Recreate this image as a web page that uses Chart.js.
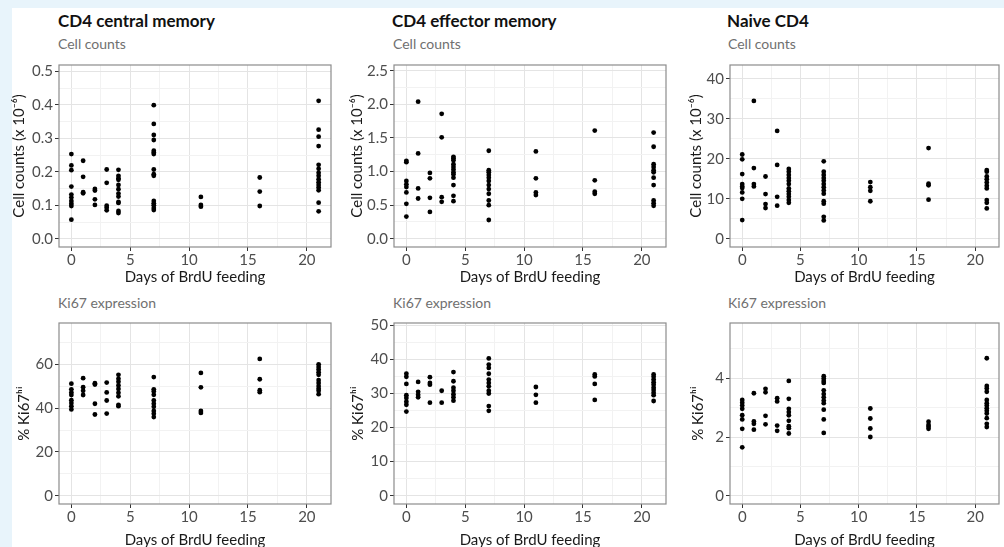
<!DOCTYPE html>
<html>
<head>
<meta charset="utf-8">
<script src="https://cdn.jsdelivr.net/npm/chart.js@4.4.1/dist/chart.umd.min.js"></script>
<style>
  html, body { margin: 0; padding: 0; }
  body { width: 1004px; height: 547px; overflow: hidden; background: #e8f4fb; position: relative; font-family: Lato, 'Open Sans', sans-serif; }
  #sheet { position: absolute; left: 12px; top: 8px; right: 0; bottom: 0; background: #fff; }
  .ttl { position: absolute; font-weight: bold; font-size: 17px; line-height: 17px; color: #111; white-space: nowrap; }
  .sub { position: absolute; font-size: 14px; line-height: 14px; color: #707070; white-space: nowrap; }
  canvas { position: absolute; }
</style>
</head>
<body>
<div id="sheet"></div>
<div class="ttl" style="left:58px;top:12px">CD4 central memory</div>
<div class="ttl" style="left:392px;top:12px">CD4 effector memory</div>
<div class="ttl" style="left:727px;top:12px">Naive CD4</div>
<div class="sub" style="left:58px;top:37px">Cell counts</div>
<div class="sub" style="left:393px;top:37px">Cell counts</div>
<div class="sub" style="left:728px;top:37px">Cell counts</div>
<div class="sub" style="left:58px;top:296px">Ki67 expression</div>
<div class="sub" style="left:393px;top:296px">Ki67 expression</div>
<div class="sub" style="left:728px;top:296px">Ki67 expression</div>
<script>
// Days of BrdU feeding (x) shared by every panel
const days = [0, 1, 2, 3, 4, 7, 11, 16, 21];
const xMajor = [0, 5, 10, 15, 20];
const xMinor = [2.5, 7.5, 12.5, 17.5];

// One inner list per day, in the order of `days`
const cmCounts = [
  [0.253, 0.219, 0.205, 0.156, 0.132, 0.123, 0.113, 0.105, 0.098, 0.057],
  [0.233, 0.185, 0.139, 0.136],
  [0.149, 0.144, 0.118, 0.101],
  [0.207, 0.167, 0.099, 0.093, 0.085],
  [0.206, 0.188, 0.181, 0.176, 0.161, 0.148, 0.135, 0.126, 0.110, 0.107, 0.083, 0.077],
  [0.399, 0.343, 0.310, 0.295, 0.263, 0.258, 0.253, 0.207, 0.193, 0.188, 0.113, 0.106, 0.100, 0.092, 0.086],
  [0.125, 0.101, 0.096],
  [0.183, 0.141, 0.098],
  [0.412, 0.326, 0.305, 0.277, 0.221, 0.209, 0.197, 0.188, 0.178, 0.169, 0.161, 0.153, 0.145, 0.108, 0.082],
];
const emCounts = [
  [1.16, 1.14, 0.86, 0.81, 0.77, 0.69, 0.52, 0.33],
  [2.04, 1.27, 0.75, 0.60],
  [0.98, 0.90, 0.61, 0.40],
  [1.86, 1.51, 0.62, 0.55],
  [1.22, 1.20, 1.17, 1.11, 1.07, 1.03, 0.99, 0.96, 0.91, 0.80, 0.64, 0.56],
  [1.31, 1.02, 0.99, 0.95, 0.91, 0.86, 0.80, 0.74, 0.67, 0.57, 0.50, 0.28],
  [1.30, 0.90, 0.69, 0.65],
  [1.61, 0.87, 0.70, 0.67],
  [1.58, 1.37, 1.11, 1.07, 1.02, 0.99, 0.91, 0.80, 0.57, 0.53, 0.49],
];
const nvCounts = [
  [21.1, 19.9, 16.2, 13.7, 13.1, 12.7, 11.6, 10.0, 4.7],
  [34.5, 17.7, 13.7, 13.1],
  [15.6, 11.2, 8.7, 7.7],
  [27.0, 18.5, 10.5, 8.3],
  [17.5, 16.8, 16.0, 15.2, 14.5, 13.7, 12.6, 11.9, 11.2, 10.5, 9.7, 9.0],
  [19.4, 16.8, 16.0, 15.2, 14.5, 13.7, 12.9, 12.1, 11.3, 9.4, 8.8, 5.5, 4.6],
  [14.2, 12.9, 12.0, 9.4],
  [22.7, 13.8, 13.4, 9.8],
  [17.2, 16.8, 15.6, 14.9, 14.1, 13.3, 12.6, 9.7, 9.0, 7.6],
];
const cmKi67 = [
  [51.2, 48.6, 47.2, 46.0, 43.6, 42.3, 40.9, 39.4],
  [53.7, 49.6, 47.9, 46.0],
  [51.4, 50.8, 42.0, 37.1],
  [51.7, 47.2, 43.5, 37.5],
  [55.2, 53.4, 52.0, 50.4, 48.8, 47.0, 45.4, 41.5, 40.9],
  [54.2, 48.6, 47.6, 46.1, 43.5, 42.0, 40.6, 38.7, 37.4, 35.9],
  [56.1, 49.5, 38.7, 37.8],
  [62.5, 53.2, 48.2, 47.3],
  [60.0, 58.8, 57.7, 56.4, 55.2, 52.8, 51.5, 50.1, 48.9, 47.9, 46.4],
];
const emKi67 = [
  [35.8, 34.9, 32.8, 29.5, 28.7, 27.6, 26.7, 24.7],
  [33.4, 30.5, 29.6, 28.9],
  [34.8, 33.1, 32.6, 27.3],
  [30.8, 27.3],
  [36.3, 33.6, 31.7, 30.8, 29.8, 28.9, 27.9],
  [40.3, 38.5, 37.5, 35.8, 34.1, 33.1, 32.1, 30.8, 30.0, 26.3, 24.9],
  [31.9, 29.6, 27.3],
  [35.6, 35.0, 32.8, 28.1],
  [35.6, 34.9, 34.1, 33.3, 32.6, 31.7, 31.0, 30.2, 29.5, 27.8],
];
const nvKi67 = [
  [3.26, 3.17, 3.07, 2.96, 2.74, 2.60, 2.28, 1.65],
  [3.49, 2.53, 2.45, 2.25],
  [3.64, 3.52, 2.72, 2.43],
  [3.32, 3.21, 2.39, 2.21],
  [3.91, 3.30, 2.96, 2.85, 2.74, 2.55, 2.37, 2.30, 2.12],
  [4.07, 3.99, 3.91, 3.84, 3.59, 3.46, 3.35, 3.24, 3.15, 2.93, 2.60, 2.14],
  [2.97, 2.63, 2.29, 2.00],
  [2.52, 2.41, 2.35, 2.28],
  [4.68, 3.74, 3.65, 3.54, 3.26, 3.15, 3.07, 2.98, 2.89, 2.80, 2.64, 2.45, 2.34],
];

// y tick labels (major) and minor grid positions
const cmCountTicks = [0, 0.1, 0.2, 0.3, 0.4, 0.5];
const cmCountMinor = [0.05, 0.15, 0.25, 0.35, 0.45];
const emCountTicks = [0, 0.5, 1, 1.5, 2, 2.5];
const emCountMinor = [0.25, 0.75, 1.25, 1.75, 2.25];
const nvCountTicks = [0, 10, 20, 30, 40];
const nvCountMinor = [5, 15, 25, 35];
const cmKi67Ticks = [0, 20, 40, 60];
const cmKi67Minor = [10, 30, 50, 70];
const emKi67Ticks = [0, 10, 20, 30, 40, 50];
const emKi67Minor = [5, 15, 25, 35, 45];
const nvKi67Ticks = [0, 2, 4];
const nvKi67Minor = [1, 3, 5];

const COUNT_TITLE = 'Cell counts (x 10\u207B\u2076)';
const KI67_TITLE = '% Ki67\u02B0\u2071';

Chart.defaults.font.family = "Lato, 'Open Sans', sans-serif";
Chart.defaults.font.size = 15;
Chart.defaults.animation = false;

// ggplot-like panel border on all four sides
const framePlugin = {
  id: 'frame',
  afterDraw(chart) {
    const { ctx, chartArea: a } = chart;
    ctx.save();
    ctx.strokeStyle = '#8c8c8c';
    ctx.lineWidth = 1.2;
    ctx.strokeRect(a.left, a.top, a.right - a.left, a.bottom - a.top);
    ctx.restore();
  },
};

function toPoints(values) {
  const pts = [];
  days.forEach((d, i) => values[i].forEach((v) => pts.push({ x: d, y: v })));
  return pts;
}

function axis(major, minor, min, max, fmt, title, size, titlePad) {
  const horizontal = size.h !== undefined;
  const isMajor = (v) => major.includes(v);
  return {
    type: 'linear',
    min: min,
    max: max,
    afterBuildTicks: (s) => { s.ticks = major.concat(minor).sort((a, b) => a - b).map((v) => ({ value: v })); },
    afterFit: (s) => { if (horizontal) s.height = size.h; else s.width = size.w; },
    ticks: {
      autoSkip: false,
      maxRotation: 0,
      color: '#4d4d4d',
      padding: horizontal ? 0 : 2,
      callback: (v) => (isMajor(v) ? fmt(v) : ''),
    },
    grid: {
      color: (c) => (c.tick && isMajor(c.tick.value) ? '#e4e4e4' : '#f2f2f2'),
      tickColor: (c) => (c.tick && isMajor(c.tick.value) ? '#333' : 'rgba(0,0,0,0)'),
      tickLength: 4,
      lineWidth: 1,
    },
    border: { display: false },
    title: { display: true, text: title, color: '#1a1a1a', font: { size: 15 }, padding: titlePad },
  };
}

function makePanel(p) {
  const W = 50, H = 45, PAD = 4;
  const c = document.createElement('canvas');
  c.width = p.r - p.l + W + PAD;
  c.height = p.b - p.t + H + PAD;
  c.style.left = (p.l - W) + 'px';
  c.style.top = (p.t - PAD) + 'px';
  document.body.appendChild(c);
  new Chart(c, {
    type: 'scatter',
    data: {
      datasets: [{
        data: toPoints(p.values),
        pointRadius: 2.4,
        pointBorderWidth: 0,
        pointBackgroundColor: '#000',
        borderColor: '#000',
      }],
    },
    options: {
      responsive: false,
      layout: { padding: { top: PAD, right: PAD, left: 0, bottom: 0 } },
      plugins: { legend: { display: false }, tooltip: { enabled: false } },
      scales: {
        x: axis(xMajor, xMinor, -1.05, 22.05, (v) => String(v), 'Days of BrdU feeding', { h: H },
          { top: 0, bottom: p.xPad }),
        y: axis(p.major, p.minor, p.min, p.max, p.fmt, p.title, { w: W },
          { top: p.yPad, bottom: 0 }),
      },
    },
    plugins: [framePlugin],
  });
}

const fix1 = (v) => v.toFixed(1);
const fix0 = (v) => String(v);
const topRow = { t: 58, b: 247, xPad: 6 };
const botRow = { t: 316, b: 504, xPad: 0 };

makePanel({ ...topRow, l: 59, r: 331, values: cmCounts, major: cmCountTicks, minor: cmCountMinor, min: -0.0245, max: 0.519, fmt: fix1, title: COUNT_TITLE, yPad: 1 });
makePanel({ ...topRow, l: 394, r: 666, values: emCounts, major: emCountTicks, minor: emCountMinor, min: -0.122, max: 2.586, fmt: fix1, title: COUNT_TITLE, yPad: 4 });
makePanel({ ...topRow, l: 730, r: 999, values: nvCounts, major: nvCountTicks, minor: nvCountMinor, min: -2.05, max: 43.5, fmt: fix0, title: COUNT_TITLE, yPad: 7 });
makePanel({ ...botRow, l: 59, r: 331, values: cmKi67, major: cmKi67Ticks, minor: cmKi67Minor, min: -3.8, max: 78.9, fmt: fix0, title: KI67_TITLE, yPad: 6 });
makePanel({ ...botRow, l: 394, r: 666, values: emKi67, major: emKi67Ticks, minor: emKi67Minor, min: -2.45, max: 50.7, fmt: fix0, title: KI67_TITLE, yPad: 5 });
makePanel({ ...botRow, l: 730, r: 999, values: nvKi67, major: nvKi67Ticks, minor: nvKi67Minor, min: -0.28, max: 5.88, fmt: fix0, title: KI67_TITLE, yPad: 9 });
</script>
</body>
</html>
